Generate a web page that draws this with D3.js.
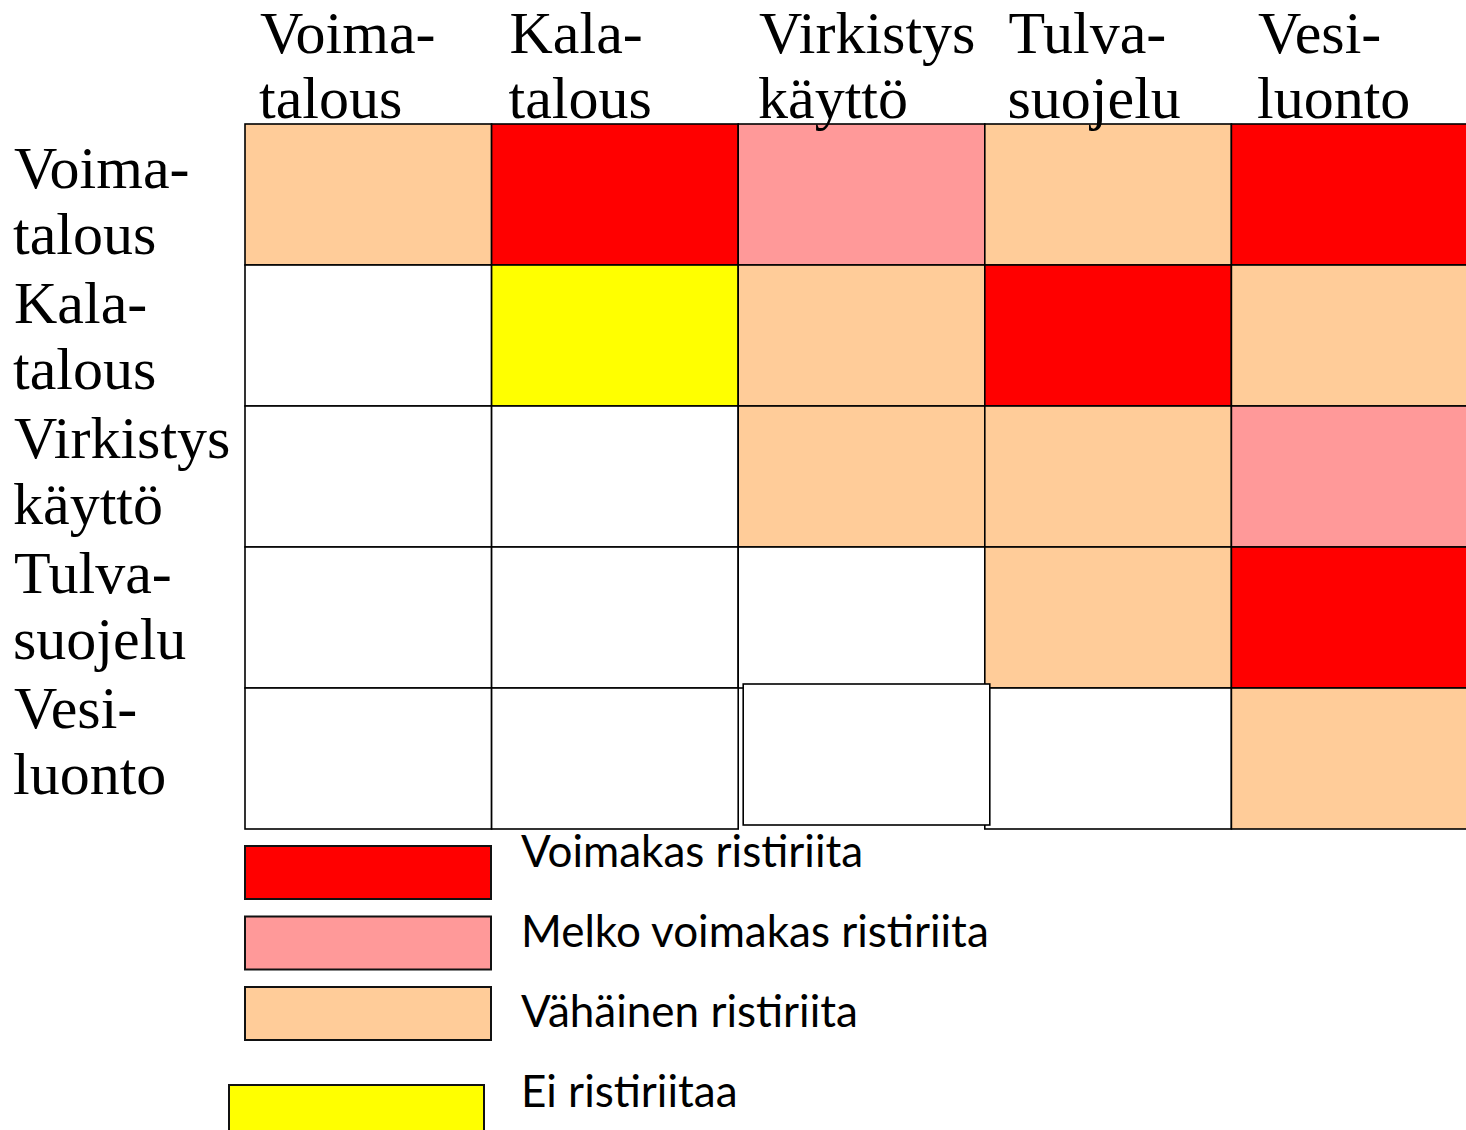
<!DOCTYPE html>
<html lang="fi">
<head>
  <meta charset="utf-8">
  <title>Ristiriitamatriisi</title>
  <script src="https://d3js.org/d3.v7.min.js"></script>
  <style>
    body { margin: 0; background: #fff; }
  </style>
</head>
<body>
  <div class="chart"></div>
<script>
// categories (same for rows and columns)
var uses = ["Voimatalous", "Kalatalous", "Virkistyskäyttö", "Tulvasuojelu", "Vesiluonto"];
// how the labels are split on two lines
var labelLines = [
  ["Voima-", "talous"],
  ["Kala-", "talous"],
  ["Virkistys", "käyttö"],
  ["Tulva-", "suojelu"],
  ["Vesi-", "luonto"]
];

// conflict level: 3 = strong, 2 = fairly strong, 1 = small, 0 = none, null = empty cell
var matrix = [
  [1, 3, 2, 1, 3],
  [null, 0, 1, 3, 1],
  [null, null, 1, 1, 2],
  [null, null, null, 1, 3],
  [null, null, null, null, 1]
];

var levels = [3, 2, 1, 0];
var levelNames = ["Voimakas ristiriita", "Melko voimakas ristiriita", "Vähäinen ristiriita", "Ei ristiriitaa"];
var levelColors = ["#ff0000", "#ff9999", "#ffcc99", "#ffff00"];

var W = 1466, H = 1130;
var serif = "'Liberation Serif', 'Times New Roman', 'DejaVu Serif', serif";
var sans = "Lato, 'Open Sans', sans-serif";

var svg = d3.select(".chart")
  .append("svg")
  .attr("width", W)
  .attr("height", H);

var color = d3.scaleOrdinal().domain(levels).range(levelColors);

var x = d3.scaleBand().domain(uses).range([245, 1478]);
var y = d3.scaleBand().domain(uses).range([124, 829]);

// flatten to cells
var cells = [];
matrix.forEach(function(row, i) {
  row.forEach(function(v, j) {
    cells.push({ row: uses[i], col: uses[j], value: v, i: i, j: j });
  });
});

// the one box in the bottom row that sits slightly off the grid in the original
function offset(d) {
  return (d.i === 4 && d.j === 2) ? [5, -4] : [0, 0];
}
cells.sort(function(a, b) { return (offset(a)[0] !== 0) - (offset(b)[0] !== 0); });

svg.append("g")
  .selectAll("rect")
  .data(cells)
  .enter().append("rect")
  .attr("x", function(d) { return x(d.col) + offset(d)[0]; })
  .attr("y", function(d) { return y(d.row) + offset(d)[1]; })
  .attr("width", x.bandwidth())
  .attr("height", y.bandwidth())
  .attr("fill", function(d) { return d.value === null ? "#fff" : color(d.value); })
  .attr("stroke", "#000")
  .attr("stroke-width", 1.6);

// column headers (their text boxes are spaced a little wider than the cells)
var xl = d3.scalePoint().domain(uses).range([260, 1258]);
var colHead = svg.append("g")
  .style("font-family", serif)
  .style("font-size", "60px")
  .selectAll("text")
  .data(uses)
  .enter().append("text")
  .attr("x", function(d) { return xl(d); })
  .attr("y", 53);
colHead.append("tspan").text(function(d, i) { return labelLines[i][0]; });
colHead.append("tspan")
  .attr("x", function(d) { return xl(d) - 1; })
  .attr("dy", 65)
  .text(function(d, i) { return labelLines[i][1]; });

// row headers
var yl = d3.scalePoint().domain(uses).range([188, 728]);
var rowHead = svg.append("g")
  .style("font-family", serif)
  .style("font-size", "60px")
  .selectAll("text")
  .data(uses)
  .enter().append("text")
  .attr("x", 14)
  .attr("y", function(d) { return yl(d); });
rowHead.append("tspan").text(function(d, i) { return labelLines[i][0]; });
rowHead.append("tspan")
  .attr("x", 13)
  .attr("dy", 66)
  .text(function(d, i) { return labelLines[i][1]; });

// legend
var ly = d3.scalePoint().domain(levels).range([867, 1107]);              // text baselines
var boxY = d3.scalePoint().domain(levels.slice(0, 3)).range([846, 987]); // swatches
var legend = svg.append("g").selectAll("g")
  .data(levels)
  .enter().append("g");

legend.append("rect")
  .attr("x", function(d) { return d === 0 ? 229 : 245; })
  .attr("y", function(d) { return d === 0 ? 1085 : boxY(d); })
  .attr("width", function(d) { return d === 0 ? 255 : 246; })
  .attr("height", function(d) { return d === 0 ? 60 : 53; })
  .attr("fill", function(d) { return color(d); })
  .attr("stroke", "#111")
  .attr("stroke-width", 2);

legend.append("text")
  .style("font-family", sans)
  .style("font-size", "44px")
  .attr("x", 521)
  .attr("y", function(d) { return ly(d); })
  .text(function(d, i) { return levelNames[i]; });
</script>
</body>
</html>
